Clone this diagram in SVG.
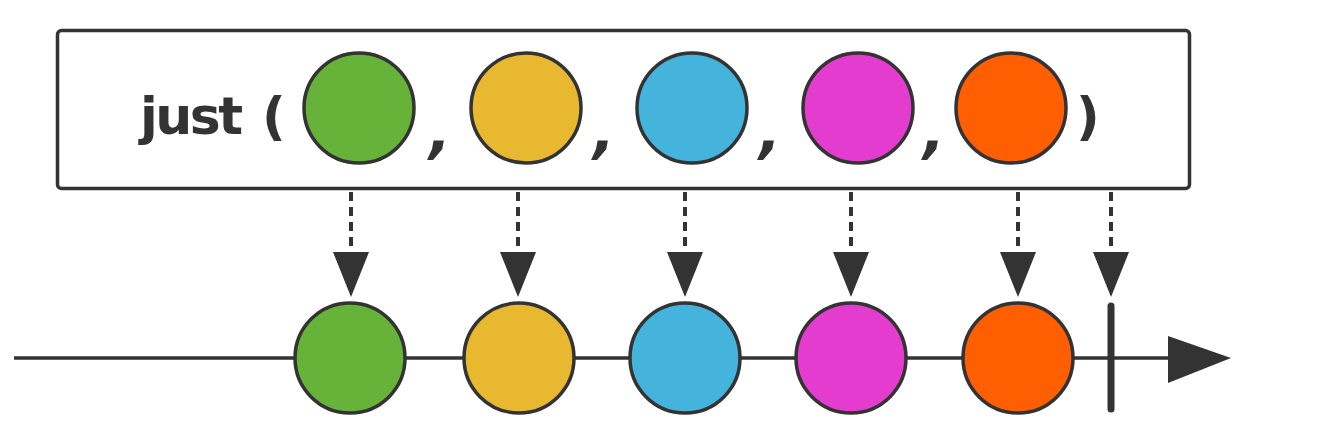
<svg xmlns="http://www.w3.org/2000/svg" width="1334" height="430" viewBox="0 0 1334 430">
<defs>
<style>
.m{stroke:#333;stroke-width:3.5}
.t{font-family:"DejaVu Sans",Verdana,sans-serif;font-weight:bold;fill:#333}
.c{font-family:"DejaVu Sans",Verdana,sans-serif;font-weight:bold;fill:#333;font-size:58px;font-style:italic}
.d{stroke:#333;stroke-width:4;stroke-dasharray:9 6;fill:none}
.ah{fill:#333}
</style>
</defs>
<rect width="1334" height="430" fill="#fff"/>
<g id="source">
<rect x="57.5" y="30.5" width="1132" height="158" rx="4" fill="#fff" stroke="#333" stroke-width="3.5"/>
<text class="t" x="140" y="134" font-size="52" letter-spacing="-2.5">just</text>
<text class="t" x="262" y="134" font-size="52">(</text>
<circle class="m" cx="359" cy="108" r="55" fill="#67b33a"/>
<text class="c" x="429" y="152">,</text>
<circle class="m" cx="526" cy="108" r="55" fill="#e8b830"/>
<text class="c" x="593" y="152">,</text>
<circle class="m" cx="692" cy="108" r="55" fill="#44b4dd"/>
<text class="c" x="759" y="152">,</text>
<circle class="m" cx="858" cy="108" r="55" fill="#e43ccf"/>
<text class="c" x="923" y="152">,</text>
<circle class="m" cx="1011" cy="108" r="55" fill="#ff5f00"/>
<text class="t" x="1076" y="134" font-size="52">)</text>
</g>
<g id="connectors">
<line class="d" x1="351" y1="192" x2="351" y2="254"/>
<polygon class="ah" points="333,252 369,252 351,297"/>
<line class="d" x1="518" y1="192" x2="518" y2="254"/>
<polygon class="ah" points="500,252 536,252 518,297"/>
<line class="d" x1="685" y1="192" x2="685" y2="254"/>
<polygon class="ah" points="667,252 703,252 685,297"/>
<line class="d" x1="851" y1="192" x2="851" y2="254"/>
<polygon class="ah" points="833,252 869,252 851,297"/>
<line class="d" x1="1018" y1="192" x2="1018" y2="254"/>
<polygon class="ah" points="1000,252 1036,252 1018,297"/>
<line class="d" x1="1111" y1="192" x2="1111" y2="254"/>
<polygon class="ah" points="1093,252 1129,252 1111,297"/>
</g>
<g id="timeline">
<line x1="14" y1="358" x2="1175" y2="358" stroke="#333" stroke-width="3.5"/>
<polygon class="ah" points="1168,336 1231,358 1168,383"/>
<line x1="1111" y1="306" x2="1111" y2="409" stroke="#333" stroke-width="7" stroke-linecap="round"/>
</g>
<g id="out1"><circle class="m" cx="350" cy="358" r="55" fill="#67b33a"/></g>
<g id="out2"><circle class="m" cx="519" cy="358" r="55" fill="#e8b830"/></g>
<g id="out3"><circle class="m" cx="685" cy="358" r="55" fill="#44b4dd"/></g>
<g id="out4"><circle class="m" cx="851" cy="358" r="55" fill="#e43ccf"/></g>
<g id="out5"><circle class="m" cx="1018" cy="358" r="55" fill="#ff5f00"/></g>
</svg>
